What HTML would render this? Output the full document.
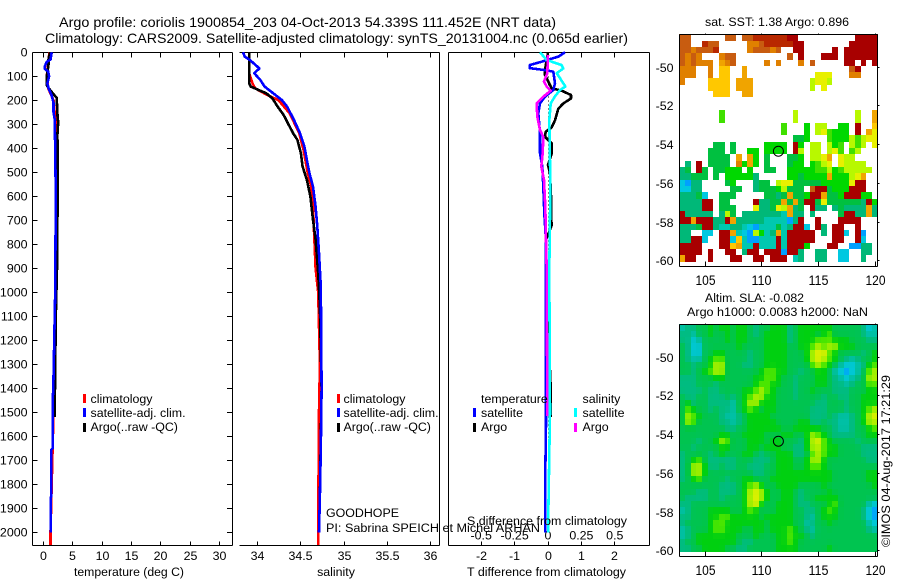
<!DOCTYPE html>
<html lang="en">
<head>
<meta charset="utf-8">
<title>Argo profile chart</title>
<style>
html,body{margin:0;padding:0;background:#fff;width:900px;height:580px;overflow:hidden}
svg{display:block}
text{font-family:"Liberation Sans",sans-serif;font-size:12.4px;fill:#000}
.t14{font-size:14px}
.m{text-anchor:middle}
.e{text-anchor:end}
</style>
</head>
<body>
<svg id="chart" xmlns="http://www.w3.org/2000/svg" width="900" height="580" viewBox="0 0 900 580">
  <rect x="0" y="0" width="900" height="580" fill="#fff"/>
  <text class="t14" x="59" y="27" textLength="497" lengthAdjust="spacingAndGlyphs">Argo profile: coriolis 1900854_203 04-Oct-2013 54.339S 111.452E (NRT data)</text>
  <text class="t14" x="45" y="43" textLength="583" lengthAdjust="spacingAndGlyphs">Climatology: CARS2009. Satellite-adjusted climatology: synTS_20131004.nc (0.065d earlier)</text>
  <g id="maps"></g>
  <g id="axes"></g>
  <g id="series"></g>

  <text class="m" x="129" y="576" textLength="110" lengthAdjust="spacingAndGlyphs">temperature (deg C)</text>
  <text class="m" x="336" y="576">salinity</text>
  <text x="467" y="576" textLength="159" lengthAdjust="spacingAndGlyphs">T difference from climatology</text>
  <text x="467" y="525" textLength="160" lengthAdjust="spacingAndGlyphs">S difference from climatology</text>

  <rect x="83" y="394" width="3" height="9" fill="#f00"/>
  <rect x="83" y="408" width="3" height="9" fill="#00f"/>
  <rect x="83" y="423" width="3" height="9" fill="#000"/>
  <text x="90.5" y="403">climatology</text>
  <text x="90.5" y="417">satellite-adj. clim.</text>
  <text x="90.5" y="431">Argo(..raw -QC)</text>

  <rect x="337" y="394" width="3" height="9" fill="#f00"/>
  <rect x="337" y="408" width="3" height="9" fill="#00f"/>
  <rect x="337" y="423" width="3" height="9" fill="#000"/>
  <text x="343.5" y="403">climatology</text>
  <text x="343.5" y="417">satellite-adj. clim.</text>
  <text x="343.5" y="431">Argo(..raw -QC)</text>

  <text x="481" y="403">temperature</text>
  <rect x="473" y="408" width="3" height="9" fill="#00f"/>
  <rect x="473" y="423" width="3" height="9" fill="#000"/>
  <text x="481" y="417">satellite</text>
  <text x="481" y="431">Argo</text>
  <text x="582.5" y="403">salinity</text>
  <rect x="574" y="408" width="3" height="9" fill="#0ff"/>
  <rect x="574" y="423" width="3" height="9" fill="#f0f"/>
  <text x="582.5" y="417">satellite</text>
  <text x="582.5" y="431">Argo</text>

  <text x="326" y="517">GOODHOPE</text>
  <text x="326" y="532" textLength="214" lengthAdjust="spacingAndGlyphs">PI: Sabrina SPEICH et Michel ARHAN</text>

  <text x="705" y="26" textLength="144" lengthAdjust="spacingAndGlyphs">sat. SST: 1.38 Argo: 0.896</text>
  <text x="705" y="302" textLength="99" lengthAdjust="spacingAndGlyphs">Altim. SLA: -0.082</text>
  <text x="687" y="316" textLength="181" lengthAdjust="spacingAndGlyphs">Argo h1000: 0.0083 h2000: NaN</text>
  <text transform="translate(890,547) rotate(-90)" textLength="172" lengthAdjust="spacingAndGlyphs" x="0" y="0">©IMOS 04-Aug-2017 17:21:29</text>
</svg>
<script>
/* ---------- chart data ---------- */
const depthTicks = [0,100,200,300,400,500,600,700,800,900,1000,1100,1200,1300,1400,1500,1600,1700,1800,1900,2000];
const tempTicks = [0,5,10,15,20,25,30];
const salTicks = [34,34.5,35,35.5,36];
const salTickLabels = ['34','34.5','35','35.5','36'];
const tDiffTicks = [-2,-1,0,1,2];
const sDiffTicks = [-0.5,-0.25,0,0.25,0.5];
const sDiffTickLabels = ['-0.5','-0.25','0','0.25','0.5'];
const lonTicks = [105,110,115,120];
const latTicks = [-50,-52,-54,-56,-58,-60];
const argoLon = 111.452;
const argoLat = -54.339;

/* temperature panel */
const tempClimDepth = [0,50,100,150,200,300,400,1000,1500,2000,2052];
const tempClimValue = [1.0,0.8,0.55,0.8,1.7,2.1,2.2,2.1,1.7,1.2,1.2];
const tempArgoDepth = [0,30,50,80,100,140,170,190,270,290,350,400,600,650,800,900,1000,1100,1500,1520];
const tempArgoValue = [1.1,0.85,0.85,0.7,0.55,0.6,1.55,2.25,2.4,2.5,2.35,2.45,2.45,2.4,2.3,2.3,2.2,2.1,1.9,1.9];
const tempSatDepth = [0,30,40,60,70,80,100,130,150,180,210,250,280,400,600,800,1000,1400,1450,1650,1655,1850,1855,2000];
const tempSatValue = [1.4,1.2,0.55,0.2,0.25,0.8,0.95,0.65,0.87,1.4,1.7,1.7,1.9,2.0,2.1,2.05,2.0,1.67,1.56,1.56,1.33,1.33,1.22,1.22];

/* salinity panel */
const salClimDepth = [0,87,129,150,178,199,254,337,406,504,560,643,900,1000,1300,1500,1650,1850,2052];
const salClimValue = [33.9,33.9,33.94,33.97,34.11,34.24,34.37,34.48,34.53,34.58,34.62,34.64,34.67,34.7,34.72,34.71,34.71,34.7,34.7];
const salArgoDepth = [0,129,143,157,171,192,226,261,310,337,365,421,476,532,601,698,781,920,1060,1400,1850];
const salArgoValue = [33.9,33.9,33.92,34.01,34.1,34.17,34.23,34.3,34.37,34.41,34.46,34.5,34.52,34.57,34.61,34.64,34.67,34.7,34.72,34.74,34.72];
const salSatDepth = [0,18,32,67,87,115,143,171,199,226,282,337,393,449,504,560,643,726,837,976,1400,1650,1850,2000];
const salSatValue = [33.83,33.85,33.91,34.02,33.96,34.03,34.08,34.18,34.28,34.34,34.42,34.49,34.54,34.57,34.6,34.64,34.67,34.69,34.71,34.73,34.74,34.73,34.72,34.71];

/* difference panel */
const dTSatDepth = [0,18,39,53,66,75,81,129,157,185,213,254,337,421,476,560,670,786,920,1550,1750,2000];
const dTSatValue = [0.51,0.31,-0.19,-0.54,-0.55,-0.05,0.16,0.21,0.16,-0.09,-0.24,-0.29,-0.24,-0.24,-0.17,-0.14,-0.11,-0.06,-0.06,-0.06,-0.08,-0.08];
const dTArgoDepth = [0,32,74,95,122,150,160,178,192,213,234,283,313,331,352,379,421,470,504,600,685,720,782,920,1400,1520];
const dTArgoValue = [0,-0.04,-0.09,-0.09,0.01,0.11,0.41,0.69,0.69,0.46,0.31,0.21,0.11,-0.07,-0.09,0.11,0.11,0,0.06,0.09,0.09,0.11,-0.06,-0.06,0.08,0.08];
const dSSatDepth = [0,32,53,67,87,108,143,157,185,213,283,560,907,1500,1900,2000];
const dSSatValue = [-0.06,-0.01,0.10,0.115,0.065,0.09,0.13,0.09,0.05,0.02,0.01,0.018,0.01,0.015,0.003,0.003];
const dSArgoDepth = [11,87,122,143,160,185,213,268,324,352,421,476,532,643,782,907,1515];
const dSArgoValue = [0,-0.005,-0.03,-0.01,0.02,-0.035,-0.085,-0.08,-0.06,-0.035,-0.04,-0.05,-0.03,-0.02,-0.015,-0.01,-0.005];

/* SST map: 35 columns (0.5 deg) x 36 rows; each letter is a colour class, '.' is missing */
const sstRows = [
"RR......RR.RRrrrrrrdd..........dddd",
"RR..rRR.....ooRrrrrrdd........ddddd",
"RRoRRRr.....oRRRoR..dd.....d.dddddd",
"RoRo...oRR.........R.d...ddd.dddddd",
"RoRooo.aoR.....o.o...o.R.....dd.d.d",
"ooo..o.yy..a..................Rd...",
"ooo..o.yy..a............YYY...oo...",
"o....yyyy.aaa..........lYYl........",
".....yyyy.aaa..........l.Y.........",
"......yyy..aa......................",
"...................................",
"...................................",
".......g............l..........l..a",
".......g............l..........l..a",
"..................g...G.ll..GG.d..y",
"..................g...G.lYgGGG.d.aY",
"....................hhG...gGGGlglYY",
"......hh.h.....GGGG.dG.ll.lGg.lgl.Y",
".....hhh.h..GG.GGGG.dl.ll.lYg.gl...",
".....hhhh.a.aG.h...hhG.llYa.Yll....",
".t.d.hhhh.oGaG.h...hGG.GglY.Yllll..",
"th.dh.hhGGG.G..hh..GGGGGgglGglllll.",
"tthhh.h.GGGGGt.....GGhGGGGaGGGlYa..",
"Cbtt....hG...thh.lYYhhhhhGGGGGYdd..",
"CCtt.....hh..thhhGlhhh.RddhGGGddd..",
"ttthC..hhh.....hhthahhGddahhGdddGG.",
"ttttdd.hh....dtthhahahddhYhhhhhhtdG",
"ttttdd.hhh...YtthYlath.dtt.thttttat",
"dttttt.tlh.tttttttcatt.t....hddttat",
"ddadddttdatttttccccbtd..d...dddd...",
"ttthddtccttcCbccchctddC.dt.dd..d...",
"tt..CC.ddacCblGctacddddd.t.ddC.db..",
"ttddC..ddCycbbcccdcddddd...dd..dC..",
"dddd...ddyaccdcccdcdddG...dd..bbtt.",
"dddd.d..dd.tdd.dddbddt..tt..CC..tt.",
"add..d...dd..dd.ddd.ct..tt..CC..t.."
];

/* Altimetry map: 35 columns x 36 rows of SLA colour levels 0 (low) to 8 (high) */
const slaRows = [
"23344 54554 55434 45553 45555 55444 44312",
"33244 54454 55434 55553 45554 56444 44322",
"33124 44454 55444 55553 45556 66555 44433",
"43114 44444 54444 55554 45567 67755 54444",
"43114 45544 44344 55554 44578 86544 44345",
"43224 56644 44344 55554 44578 76543 23445",
"44344 57744 43344 55554 44467 65421 12356",
"44345 67744 44445 66554 43445 54210 12467",
"33344 45544 44455 66544 34445 54321 23477",
"33344 43444 44456 65544 34445 54332 34466",
"33334 33444 45567 65444 34454 44333 44455",
"43344 33343 45677 55444 34444 34433 44555",
"45344 33332 45775 55444 44443 34443 44555",
"46544 34332 45654 55444 44433 34443 44567",
"47654 44322 34555 54444 44433 34322 34578",
"47644 44332 34555 55444 45533 43322 34577",
"44444 44433 44555 55544 55555 44322 34456",
"44444 44554 45555 44455 44576 54333 34455",
"44434 45764 44555 45544 43578 65444 43444",
"44344 44554 44554 55544 33577 65544 44333",
"34444 34544 45543 44555 33467 65544 44333",
"34564 33333 44433 34555 44577 54444 44433",
"34775 33433 44333 44555 44566 54444 44444",
"34775 44444 44433 44555 55555 55444 44455",
"34564 44434 45544 45555 55555 55444 44455",
"44444 44333 45675 44555 54444 54444 44445",
"44433 44333 45787 54455 43444 45444 44444",
"43333 44344 45787 54455 43445 55544 44444",
"33444 44444 45785 44555 43344 45644 44421",
"23444 55554 45654 44555 44334 56544 44310",
"33444 55665 55554 55555 44324 55544 44310",
"34444 56655 55555 45555 44234 45444 44421",
"23444 56655 54455 45556 54324 44444 44432",
"23455 55555 44454 44556 55434 44444 44444",
"34455 55555 43344 44556 54444 44444 44444",
"33445 55544 33444 44555 54444 45444 44444"
];

/* ---------- scales ---------- */
const yD = d => 52.3 + d * 0.24;
const xT = v => 43.5 + v * 5.87;
const xS = v => 257.7 + (v - 34) * 86.4;
const xDT = v => 548 + v * 33.4;
const xDS = v => 548 + v * 133.6;
const lonX = v => 705.3 + (v - 105) * 11.33;
const latY1 = v => 67.3 + (-50 - v) * 19.34;
const latY2 = v => 357.3 + (-50 - v) * 19.34;

const SVGNS = 'http://www.w3.org/2000/svg';
const axesG = document.getElementById('axes');
const seriesG = document.getElementById('series');
const mapsG = document.getElementById('maps');

function mk(parent, tag, attrs, name) {
  const el = document.createElementNS(SVGNS, tag);
  for (const k in attrs) el.setAttribute(k, attrs[k]);
  
  
  parent.appendChild(el);
  return el;
}
function seg(x1, y1, x2, y2, name) {
  return mk(axesG, 'line', {x1: x1, y1: y1, x2: x2, y2: y2, stroke: '#000', 'stroke-width': 1, 'shape-rendering': 'crispEdges'}, name);
}
function label(x, y, s, cls, name) {
  const t = mk(axesG, 'text', {x: x, y: y, class: cls}, name);
  t.textContent = s;
  return t;
}
function px(v) { return Math.floor(v) + 0.5; }

/* ---------- frames & ticks ---------- */
const axisTop = 52.5, axisBot = 545.5;
/* temperature panel */
seg(32.5, axisTop, 232.5, axisTop, 'temperature-top-axis');
seg(32.5, axisBot, 232.5, axisBot, 'temperature-bottom-axis');
seg(32.5, axisTop, 32.5, axisBot, 'temperature-depth-axis');
seg(232.5, axisTop, 232.5, axisBot, 'temperature-right-axis');
depthTicks.forEach(d => {
  const y = px(yD(d));
  seg(32.5, y, 37.5, y, 'depth-tick-left');
  seg(227, y, 232.5, y, 'depth-tick-right');
  label(27.5, y + 4, String(d), 'e', 'depth-tick-label');
});
tempTicks.forEach(v => {
  const x = px(xT(v));
  seg(x, axisTop, x, axisTop + 5, 'temperature-top-tick');
  seg(x, axisBot, x, axisBot - 4, 'temperature-bottom-tick');
  label(x, 560, String(v), 'm', 'temperature-tick-label');
});
/* salinity panel (no left line) */
seg(239.5, axisTop, 439.5, axisTop, 'salinity-top-axis');
seg(239.5, axisBot, 439.5, axisBot, 'salinity-bottom-axis');
seg(439.5, axisTop, 439.5, axisBot, 'salinity-right-axis');
salTicks.forEach((v, i) => {
  const x = px(xS(v));
  seg(x, axisTop, x, axisTop + 5, 'salinity-top-tick');
  seg(x, axisBot, x, axisBot - 4, 'salinity-bottom-tick');
  label(x, 560, salTickLabels[i], 'm', 'salinity-tick-label');
});
/* difference panel */
seg(448.5, axisTop, 649.5, axisTop, 'difference-top-axis');
seg(448.5, axisBot, 649.5, axisBot, 'difference-bottom-axis');
seg(448.5, axisTop, 448.5, axisBot, 'difference-left-axis');
seg(649.5, axisTop, 649.5, axisBot, 'difference-right-axis');
tDiffTicks.forEach(v => {
  const x = px(xDT(v));
  seg(x, axisTop, x, axisTop + 5, 'difference-top-tick');
  seg(x, axisBot, x, axisBot - 4, 'difference-bottom-tick');
  label(x, 560, String(v), 'm', 't-difference-tick-label');
});
sDiffTicks.forEach((v, i) => {
  label(xDS(v), 539.5, sDiffTickLabels[i], 'm', 's-difference-tick-label');
});
const zeroLine = mk(axesG, 'line', {x1: 548.5, y1: yD(100), x2: 548.5, y2: yD(2000), stroke: '#000', 'stroke-width': 1, 'stroke-dasharray': '1 3', 'shape-rendering': 'crispEdges'}, 'zero-difference-line');

/* ---------- profile lines ---------- */
function profile(depths, values, xf, color, name) {
  const pts = depths.map((d, i) => xf(values[i]).toFixed(1) + ',' + yD(d).toFixed(1)).join(' ');
  return mk(seriesG, 'polyline', {points: pts, fill: 'none', stroke: color, 'stroke-width': 2.6, 'stroke-linejoin': 'round', 'shape-rendering': 'crispEdges'}, name);
}
profile(tempClimDepth, tempClimValue, xT, '#f00', 'temperature-climatology-line');
profile(tempArgoDepth, tempArgoValue, xT, '#000', 'temperature-argo-line');
profile(tempSatDepth, tempSatValue, xT, '#00f', 'temperature-satellite-line');
profile(salClimDepth, salClimValue, xS, '#f00', 'salinity-climatology-line');
profile(salArgoDepth, salArgoValue, xS, '#000', 'salinity-argo-line');
profile(salSatDepth, salSatValue, xS, '#00f', 'salinity-satellite-line');
profile(dTArgoDepth, dTArgoValue, xDT, '#000', 't-difference-argo-line');
profile(dTSatDepth, dTSatValue, xDT, '#00f', 't-difference-satellite-line');
profile(dSSatDepth, dSSatValue, xDS, '#0ff', 's-difference-satellite-line');
profile(dSArgoDepth, dSArgoValue, xDS, '#f0f', 's-difference-argo-line');

/* ---------- maps ---------- */
const sstPalette = {d:'#a80000',r:'#b82800',R:'#c85c10',o:'#e08000',a:'#f0a400',y:'#ffc800',Y:'#e8f000',l:'#b8f800',g:'#40e000',G:'#00d800',h:'#00c040',t:'#00b878',c:'#00c8b0',C:'#00c8e0',b:'#00a0ff'};
const slaRamp = [[0,160,255],[0,200,216],[0,192,168],[0,188,128],[0,196,80],[0,208,16],[80,232,0],[176,240,0],[224,240,0]];
const lonStart = 102.7, lonStep = 0.5, latStart = -48.29, latStep = 0.3267;

function cellRect(g, c, r, latY, fill, name) {
  const x0 = lonX(lonStart + c * lonStep), x1 = lonX(lonStart + (c + 1) * lonStep);
  const y0 = latY(latStart - r * latStep), y1 = latY(latStart - (r + 1) * latStep);
  mk(g, 'rect', {x: Math.round(x0), y: Math.round(y0), width: Math.round(x1) - Math.round(x0), height: Math.round(y1) - Math.round(y0), fill: fill}, name);
}
function rampColor(v) {
  const i = Math.max(0, Math.min(slaRamp.length - 2, Math.floor(v)));
  const f = Math.max(0, Math.min(1, v - i));
  const a = slaRamp[i], b = slaRamp[i + 1];
  return 'rgb(' + a.map((q, k) => Math.round(q + (b[k] - q) * f)).join(',') + ')';
}

const sstG = mk(mapsG, 'g', {'shape-rendering': 'crispEdges'}, 'sst-map');
sstRows.forEach((row, r) => {
  for (let c = 0; c < row.length; c++) {
    const col = sstPalette[row[c]];
    if (col) cellRect(sstG, c, r, latY1, col, 'sst-map-cell');
  }
});

const slaGrid = slaRows.map(row => row.replace(/ /g, '').split('').map(Number));
const slaG = mk(mapsG, 'g', {'shape-rendering': 'crispEdges'}, 'altimetry-map');
slaGrid.forEach((row, r) => {
  row.forEach((v, c) => {
    /* light smoothing of each level with its four neighbours */
    const up = (slaGrid[r - 1] || row)[c];
    const down = (slaGrid[r + 1] || row)[c];
    const left = row[c - 1] === undefined ? v : row[c - 1];
    const right = row[c + 1] === undefined ? v : row[c + 1];
    cellRect(slaG, c, r, latY2, rampColor((8 * v + up + down + left + right) / 12), 'altimetry-map-cell');
  });
});

function mapFrame(prefix, frameTop, frameBot, latY) {
  const L = 679.5, R = 877.5;
  seg(L, frameTop, R, frameTop, prefix + '-top-axis');
  seg(L, frameBot, R, frameBot, prefix + '-bottom-axis');
  seg(L, frameTop, L, frameBot, prefix + '-left-axis');
  seg(R, frameTop, R, frameBot, prefix + '-right-axis');
  lonTicks.forEach(v => {
    const x = px(lonX(v));
    seg(x, frameBot, x, frameBot - 5, prefix + '-lon-tick');
    seg(x, frameTop, x, frameTop - 1, prefix + '-lon-top-tick');
    const lab = label(x, frameBot + 18.5, String(v), 'm t14', prefix + '-lon-label');
    lab.setAttribute('textLength', '20');
    lab.setAttribute('lengthAdjust', 'spacingAndGlyphs');
  });
  latTicks.forEach(v => {
    const y = px(latY(v));
    seg(R, y, R + 2, y, prefix + '-lat-tick');
    label(673.5, y + 4.5, String(v), 'e', prefix + '-lat-label');
  });
  mk(axesG, 'circle', {cx: lonX(argoLon), cy: latY(argoLat), r: 5, fill: 'none', stroke: '#000', 'stroke-width': 1}, prefix + '-argo-location');
}
mapFrame('sst-map', 34.5, 266.5, latY1);
mapFrame('altimetry-map', 324.5, 556.5, latY2);
</script>
</body>
</html>
